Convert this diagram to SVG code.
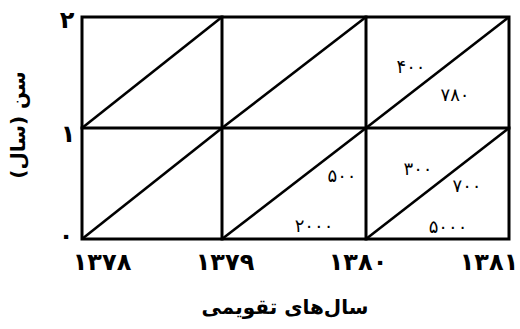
<svg xmlns="http://www.w3.org/2000/svg" width="520" height="329" viewBox="0 0 520 329">
<style>
.ln{stroke:#000;stroke-width:3;fill:none;stroke-linecap:square}
.dg{stroke:#000;stroke-width:2.6;fill:none}
.v{font-family:"DejaVu Sans",sans-serif;font-size:18px;fill:#000;text-anchor:middle}
.ax{font-family:"DejaVu Sans",sans-serif;font-size:20px;font-weight:bold;fill:#000;text-anchor:middle}
.tk{font-family:"DejaVu Sans",sans-serif;font-size:24px;font-weight:bold;fill:#000;text-anchor:middle}
</style>
<rect width="520" height="329" fill="#fff"/>
<g id="connectors">
<rect class="ln" x="82" y="17" width="427" height="222"/>
<line class="ln" x1="82" y1="128" x2="509" y2="128"/>
<line class="ln" x1="222" y1="17" x2="222" y2="239"/>
<line class="ln" x1="366" y1="17" x2="366" y2="239"/>
<line class="dg" x1="82" y1="128" x2="222" y2="17"/>
<line class="dg" x1="222" y1="128" x2="366" y2="17"/>
<line class="dg" x1="366" y1="128" x2="509" y2="17"/>
<line class="dg" x1="82" y1="239" x2="222" y2="128"/>
<line class="dg" x1="222" y1="239" x2="366" y2="128"/>
<line class="dg" x1="366" y1="239" x2="509" y2="128"/>
</g>
<g id="values">
<text class="v" x="411" y="73">۴۰۰</text>
<text class="v" x="455" y="101">۷۸۰</text>
<text class="v" x="342" y="182">۵۰۰</text>
<text class="v" x="314" y="232">۲۰۰۰</text>
<text class="v" x="418" y="175">۳۰۰</text>
<text class="v" x="467" y="192">۷۰۰</text>
<text class="v" x="448" y="233">۵۰۰۰</text>
</g>
<g id="y-ticks">
<text class="tk" x="67" y="28">۲</text>
<text class="tk" x="68" y="142">۱</text>
<text class="tk" x="66" y="244">۰</text>
</g>
<g id="x-ticks">
<text class="tk" x="102" y="270">۱۳۷۸</text>
<text class="tk" x="225" y="270">۱۳۷۹</text>
<text class="tk" x="358" y="270">۱۳۸۰</text>
<text class="tk" x="489" y="270">۱۳۸۱</text>
</g>
<g id="axis-titles">
<text class="ax" x="285" y="314" direction="rtl">سال‌های تقویمی</text>
<text class="ax" x="0" y="0" direction="rtl" transform="translate(25,125) rotate(-90)">سن (سال)</text>
</g>
</svg>
